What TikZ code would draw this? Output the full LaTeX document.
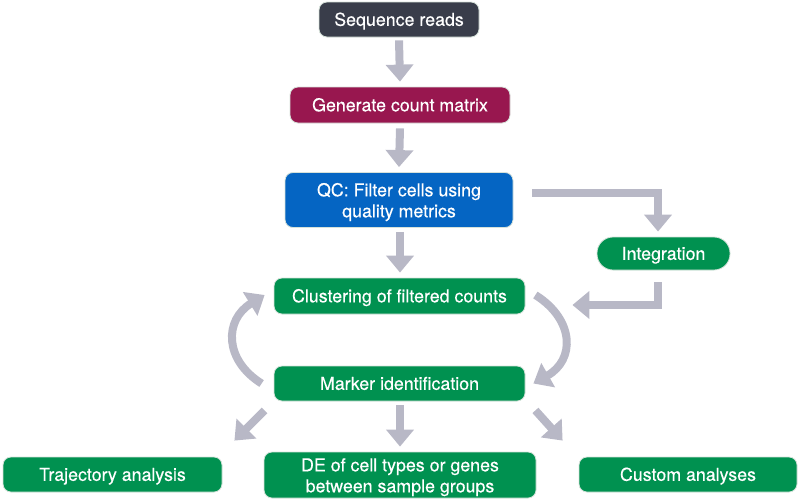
\documentclass[tikz,border=0pt]{standalone}
\usepackage{fontspec}
\setmainfont{TeX Gyre Heros}
\newfontfamily\boxfont{TeX Gyre Heros}[FakeBold=0.3]
\usetikzlibrary{arrows.meta}
\definecolor{cdark}{HTML}{393D4A}
\definecolor{cmaroon}{HTML}{98174F}
\definecolor{cblue}{HTML}{0565C3}
\definecolor{cgreen}{HTML}{009150}
\definecolor{carrow}{HTML}{B8B8C6}
\definecolor{cedge}{HTML}{D6E2DA}
\tikzset{
  box/.style={draw=cedge, line width=0.8pt, rounded corners=8pt, text=white,
    font=\boxfont\fontsize{17.8}{21}\selectfont, inner sep=0pt,
    text height=14.2pt, text depth=1.6pt},
  twoline/.style={text height=27.9pt, text depth=14.1pt},
  arr/.style={draw=carrow, line width=8pt, -{Triangle[width=27pt,length=17pt]}}
}
\newcommand{\twolines}[2]{\begin{tabular}{@{}c@{}}#1\\#2\end{tabular}}
\begin{document}
\begin{tikzpicture}[x=1pt,y=-1pt]
\useasboundingbox (0,0) rectangle (799,501);
\node[box, fill=cdark, minimum width=160pt, minimum height=35pt] (seq) at (399,19.5) {Sequence reads};
\node[box, fill=cmaroon, minimum width=220pt, minimum height=36pt] (gen) at (400,105) {Generate count matrix};
\node[box, twoline, fill=cblue, minimum width=228pt, minimum height=55pt] (qc) at (399,200) {\twolines{QC: Filter cells using}{quality metrics}};
\node[box, fill=cgreen, rounded corners=16pt, minimum width=133pt, minimum height=33pt] (integ) at (663.5,253.5) {Integration};
\node[box, fill=cgreen, minimum width=251pt, minimum height=36pt] (clus) at (399.5,296) {Clustering of filtered counts};
\node[box, fill=cgreen, minimum width=251pt, minimum height=35pt] (marker) at (399.5,383.5) {Marker identification};
\node[box, fill=cgreen, minimum width=219pt, minimum height=35pt] (traj) at (112.5,474.5) {Trajectory analysis};
\node[box, twoline, fill=cgreen, minimum width=272pt, minimum height=46pt] (de) at (400,475) {\twolines{DE of cell types or genes}{between sample groups}};
\node[box, fill=cgreen, minimum width=218pt, minimum height=35pt] (custom) at (688,474.5) {Custom analyses};

\draw[arr] ([yshift=-3pt]seq.south) -- ([yshift=5pt]gen.north);
\draw[arr] ([yshift=-5pt]gen.south) -- ([yshift=5pt]qc.north);
\draw[arr] ([xshift=1pt,yshift=-4pt]qc.south) -- ([xshift=0.5pt,yshift=5pt]clus.north);
\draw[arr] ([xshift=19pt,yshift=7pt]qc.east) -| ([xshift=-5.5pt,yshift=5pt]integ.north);
\draw[arr] ([xshift=-5.5pt,yshift=-12pt]integ.south) |- ([xshift=47pt,yshift=-9pt]clus.east);
\draw[arr] ([xshift=10pt,yshift=1pt]clus.east) .. controls (575,320) and (575,360) .. ([xshift=8pt]marker.east);
\draw[arr] ([xshift=-12pt]marker.west) .. controls (224,360) and (224,320) .. ([xshift=-9pt,yshift=1pt]clus.west);
\draw[arr] ([xshift=-9pt,yshift=-9pt]marker.south west) -- ([xshift=12pt,yshift=16pt]traj.north east);
\draw[arr] ([xshift=0.5pt,yshift=-4pt]marker.south) -- ([yshift=5pt]de.north);
\draw[arr] ([xshift=10pt,yshift=-9pt]marker.south east) -- ([xshift=-16pt,yshift=16pt]custom.north west);
\end{tikzpicture}
\end{document}
